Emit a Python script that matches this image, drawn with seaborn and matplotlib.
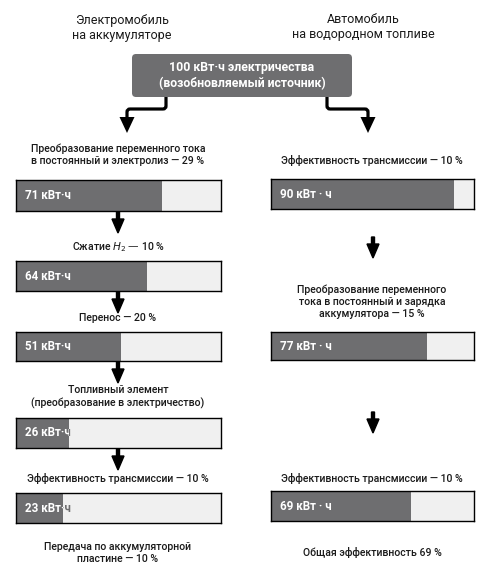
import matplotlib
matplotlib.use('Agg')
import matplotlib.pyplot as plt
import seaborn as sns
from matplotlib.patches import FancyBboxPatch, PathPatch, Polygon, Rectangle
from matplotlib.path import Path

# Data
left_title = 'Электромобиль\nна аккумуляторе'
right_title = 'Автомобиль\nна водородном топливе'
source_label = '100 кВт·ч электричества\n(возобновляемый источник)'

left_values = [71, 64, 51, 26, 23]
left_steps = [
    'Преобразование переменного тока\nв постоянный и электролиз — 29 %',
    'Сжатие $H_2$ — 10 %',
    'Перенос — 20 %',
    'Топливный элемент\n(преобразование в электричество)',
    'Эффективность трансмиссии — 10 %',
    'Передача по аккумуляторной\nпластине — 10 %',
]
right_values = [90, 77, 69]
right_steps = [
    'Эффективность трансмиссии — 10 %',
    'Преобразование переменного\nтока в постоянный и зарядка\nаккумулятора — 15 %',
    'Эффективность трансмиссии — 10 %',
    'Общая эффективность 69 %',
]
unit_left = 'кВт·ч'
unit_right = 'кВт · ч'

# Layout (pixels)
W, H = 502, 572
DARK = '#6e6e70'
LIGHT = '#f0f0f0'
TEXT = '#1a1a1a'
FONT = 'Roboto'

left_x = (16, 221)
right_x = (271, 474)
left_bar_y = [(180, 211), (261, 291), (332, 361), (418, 448), (493, 523)]
right_bar_y = [(179, 209), (332, 360), (491, 521)]
left_text_y = [155, 247, 318, 397, 478, 553]
right_text_y = [160, 302, 478, 552]
left_cx, right_cx = 118, 372

sns.set_theme(style='white')
plt.rcParams['font.family'] = [FONT, 'DejaVu Sans']

fig = plt.figure(figsize=(W / 100, H / 100), dpi=100)
bg = fig.add_axes([0, 0, 1, 1])
bg.set_xlim(0, W)
bg.set_ylim(H, 0)
bg.axis('off')


def px_rect(x0, x1, y0, y1):
    return [x0 / W, 1 - y1 / H, (x1 - x0) / W, (y1 - y0) / H]


def draw_bar(value, xs, ys, unit):
    ax = fig.add_axes(px_rect(xs[0], xs[1], ys[0], ys[1]))
    sns.barplot(x=[value], y=[0], orient='h', color=DARK, saturation=1,
                width=1, ax=ax, linewidth=0)
    ax.set_xlim(0, 100)
    ax.set_ylim(0.5, -0.5)
    ax.set_facecolor(LIGHT)
    ax.set_xticks([])
    ax.set_yticks([])
    ax.set_xlabel('')
    ax.set_ylabel('')
    for s in ax.spines.values():
        s.set_visible(True)
        s.set_color('black')
        s.set_linewidth(1.0)
    # label: white over the filled part, grey where it runs past the fill
    bar = ax.patches[0]
    rest = Rectangle((value, -0.5), 100 - value, 1,
                     facecolor='none', edgecolor='none')
    ax.add_patch(rest)
    for col, clip in [('white', bar), (DARK, rest)]:
        t = ax.text(0.045, 0.5, f'{value} {unit}', transform=ax.transAxes,
                    color=col, fontsize=8.4, fontweight='bold',
                    va='center', ha='left', clip_on=True)
        t.set_clip_path(clip)


def down_arrow(x, y0, y1):
    bg.arrow(x, y0, 0, y1 - y0, width=3, head_width=12, head_length=14,
             length_includes_head=True, color='black', zorder=5)


def step_text(x, y, s):
    bg.text(x, y, s, ha='center', va='center', fontsize=7.6,
            fontweight='medium', linespacing=1.25, color=TEXT)


# titles
bg.text(122, 28, left_title, ha='center', va='center', fontsize=9,
        linespacing=1.2, color=TEXT)
bg.text(363, 27, right_title, ha='center', va='center', fontsize=9,
        linespacing=1.2, color=TEXT)

# source box
box = FancyBboxPatch((132, 54), 220, 43, boxstyle='round,pad=0,rounding_size=4',
                     facecolor=DARK, edgecolor='none', zorder=3)
bg.add_patch(box)
bg.text(242, 75.5, source_label, ha='center', va='center', color='white',
        fontsize=8.8, fontweight='bold', linespacing=1.3, zorder=4)

# connector arrows from the box
for xa, xb in [(166, 127), (327, 368)]:
    sgn = 1 if xb > xa else -1
    verts = [(xa, 97), (xa, 106), (xa, 109), (xa + sgn * 3, 109),
             (xb - sgn * 3, 109), (xb, 109), (xb, 112), (xb, 118)]
    codes = [Path.MOVETO, Path.LINETO, Path.CURVE3, Path.CURVE3,
             Path.LINETO, Path.CURVE3, Path.CURVE3, Path.LINETO]
    bg.add_patch(PathPatch(Path(verts, codes), facecolor='none',
                           edgecolor='black', lw=2.3, capstyle='butt',
                           zorder=5))
    bg.add_patch(Polygon([(xb - 7.5, 117), (xb + 7.5, 117), (xb, 133)],
                         closed=True, facecolor='black', edgecolor='none',
                         zorder=5))

# left column
for v, ys in zip(left_values, left_bar_y):
    draw_bar(v, left_x, ys, unit_left)
for s, y in zip(left_steps, left_text_y):
    step_text(left_cx, y, s)
for i in range(4):
    down_arrow(left_cx, left_bar_y[i][1], left_bar_y[i][1] + 22)

# right column
for v, ys in zip(right_values, right_bar_y):
    draw_bar(v, right_x, ys, unit_right)
for s, y in zip(right_steps, right_text_y):
    step_text(right_cx, y, s)
down_arrow(373, 237, 258)
down_arrow(373, 412, 433)

fig.savefig('out.png', dpi=100)
